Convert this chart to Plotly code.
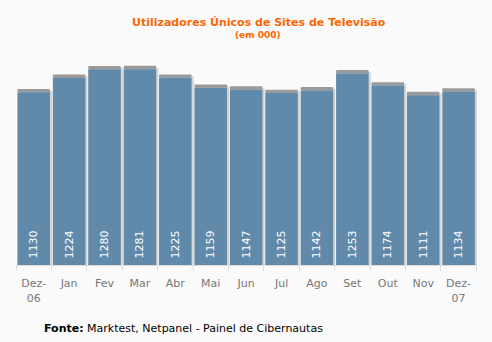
import plotly.graph_objects as go

months = ["Dez-<br>06", "Jan", "Fev", "Mar", "Abr", "Mai", "Jun", "Jul", "Ago", "Set", "Out", "Nov", "Dez-<br>07"]
values = [1130, 1224, 1280, 1281, 1225, 1159, 1147, 1125, 1142, 1253, 1174, 1111, 1134]
cap = [22] * len(values)

fig = go.Figure()
# right-side shadow
fig.add_trace(go.Bar(x=months, y=[v + 10 for v in values], width=0.92, offset=-0.40,
                     marker=dict(color="#d4d4d4", line=dict(width=0)), hoverinfo="skip"))
# grey top cap
fig.add_trace(go.Bar(x=months, y=cap, base=values, width=0.92, offset=-0.46,
                     marker=dict(color="#9a9a9a", line=dict(width=0), cornerradius=3), hoverinfo="skip"))
# main bars
fig.add_trace(go.Bar(x=months, y=values, width=0.92, offset=-0.46,
                     marker=dict(color="#6089aa", line=dict(width=0)),
                     text=["\u00a0" + str(v) for v in values],
                     textposition="inside", insidetextanchor="start", textangle=-90,
                     constraintext="none",
                     textfont=dict(family="DejaVu Sans", size=11, color="white")))

fig.update_layout(
    width=492, height=342,
    barmode="overlay", showlegend=False,
    paper_bgcolor="#fafafa", plot_bgcolor="#fafafa",
    margin=dict(l=16, r=15, t=51, b=77),
    font=dict(family="DejaVu Sans"),
    xaxis=dict(type="category", showgrid=False, showline=True, linecolor="#dddddd",
               ticks="outside", tickson="boundaries", ticklen=5, tickcolor="#dddddd",
               tickangle=0, ticklabelstandoff=8,
               tickfont=dict(size=11, color="#777777", family="DejaVu Sans")),
    yaxis=dict(range=[0, 1400], visible=False),
    annotations=[
        dict(text="<b>Utilizadores Únicos de Sites de Televisão</b>", x=259, y=342 - 23,
             showarrow=False, font=dict(size=11, color="#ff6600")),
        dict(text="<b>(em 000)</b>", x=258, y=342 - 35, showarrow=False,
             font=dict(size=9, color="#ff6600")),
        dict(text="<b>Fonte:</b> Marktest, Netpanel - Painel de Cibernautas", x=42, y=342 - 328,
             showarrow=False, xanchor="left", font=dict(size=11, color="#000000")),
    ],
)
pw, ph = 492 - 16 - 15, 342 - 51 - 77
for a in fig.layout.annotations:
    a.xref = "paper"; a.yref = "paper"
    a.x = (a.x - 16) / pw
    a.y = (a.y - 77) / ph
    a.yanchor = "middle"

fig.write_html("out.html")
